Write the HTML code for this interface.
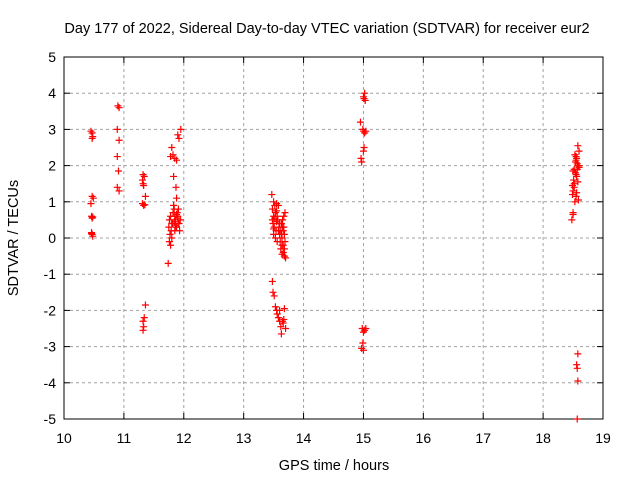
<!DOCTYPE html>
<html><head><meta charset="utf-8"><style>
body{margin:0;background:#fff}
svg{display:block;font-family:"Liberation Sans",sans-serif}
</style></head><body>
<svg id="chart" width="640" height="480">
<rect width="640" height="480" fill="#fff"/>
<text x="327" y="33" text-anchor="middle" font-size="14.5">Day 177 of 2022, Sidereal Day-to-day VTEC variation (SDTVAR) for receiver eur2</text>
<g id="grid"></g><g id="axes"></g><g id="marks"></g>
<text x="334" y="470" text-anchor="middle" font-size="14.5">GPS time / hours</text>
<text transform="translate(18,238) rotate(-90)" text-anchor="middle" font-size="14.5">SDTVAR / TECUs</text>
</svg>
<script>
const xTicks=[10,11,12,13,14,15,16,17,18,19];
const yTicks=[-5,-4,-3,-2,-1,0,1,2,3,4,5];
const times=[10.45,10.47,10.48,10.47,10.47,10.49,10.45,10.46,10.47,10.48,10.46,10.47,10.48,10.46,
10.9,10.92,10.89,10.92,10.89,10.91,10.89,10.92,
11.32,11.34,11.31,11.32,11.33,11.36,11.31,11.33,11.35,11.36,11.34,11.32,11.33,11.32,
11.75,11.8,11.82,11.85,11.88,11.92,11.95,11.9,11.78,11.83,11.87,11.88,11.91,11.76,11.78,11.8,11.82,11.84,11.86,11.88,11.9,11.92,11.94,11.77,11.79,11.81,11.83,11.85,11.87,11.89,11.91,11.93,11.78,11.8,11.84,11.86,11.9,11.76,11.74,11.85,11.88,11.83,
13.47,13.5,13.52,13.48,13.55,13.5,13.53,13.57,13.49,13.51,13.54,13.56,13.58,13.6,13.5,13.53,13.56,13.59,13.48,13.52,13.55,13.58,13.61,13.63,13.65,13.67,13.69,13.62,13.64,13.66,13.68,13.7,13.62,13.64,13.66,13.68,13.63,13.65,13.67,13.69,13.64,13.66,13.6,13.68,13.55,13.5,
13.48,13.49,13.51,13.53,13.55,13.58,13.6,13.62,13.65,13.67,13.7,13.56,13.6,13.63,13.66,13.68,
14.95,14.96,14.97,15.0,15.02,15.01,15.03,14.99,15.0,15.02,15.04,15.01,15.0,14.98,15.0,15.02,15.04,14.99,14.97,15.0,
18.48,18.5,18.52,18.54,18.56,18.58,18.6,18.5,18.52,18.54,18.56,18.58,18.49,18.51,18.53,18.55,18.57,18.59,18.5,18.52,18.55,18.57,18.6,18.53,18.56,18.58,18.5,18.55,18.49,18.6,18.58,18.56,18.57,18.58,18.57,18.55];
const values=[2.95,2.9,2.8,2.75,1.15,1.1,0.95,0.6,0.55,0.58,0.15,0.1,0.05,0.12,
3.65,3.6,3.0,2.7,2.25,1.85,1.4,1.3,
1.75,1.7,1.6,1.5,1.45,1.15,0.95,0.9,0.92,-1.85,-2.2,-2.3,-2.45,-2.55,
0.3,2.5,2.3,2.2,2.15,2.75,3.0,2.85,2.25,1.7,1.4,1.1,0.8,0.5,0.6,0.4,0.7,0.8,0.5,0.3,0.6,0.4,0.5,0.1,0.2,0.4,0.9,0.6,0.3,0.7,0.4,0.2,-0.2,0.0,0.45,0.35,0.55,-0.1,-0.7,0.2,0.65,0.9,
1.2,1.0,0.9,0.8,0.95,0.6,0.7,0.5,0.4,0.3,0.2,0.6,0.9,0.4,0.1,0.0,-0.1,0.3,0.5,0.55,0.45,0.2,-0.1,0.1,0.3,0.6,0.7,-0.3,-0.2,-0.4,-0.5,-0.55,0.2,0.0,-0.2,0.1,0.4,0.5,0.3,-0.1,-0.45,0.2,0.1,-0.3,0.75,0.25,
-1.2,-1.5,-1.6,-1.9,-2.0,-2.2,-2.3,-2.45,-2.3,-2.25,-2.5,-2.1,-2.0,-2.65,-2.35,-1.95,
3.2,2.2,2.1,3.9,4.0,3.85,3.8,3.0,2.95,2.9,2.95,2.5,2.4,-2.5,-2.6,-2.55,-2.5,-2.9,-3.05,-3.1,
0.5,0.7,1.4,1.8,2.2,2.55,2.4,1.3,1.9,2.1,1.7,2.0,1.2,1.6,2.3,2.15,1.9,1.05,0.65,1.5,1.75,2.05,1.95,1.0,1.25,1.55,1.85,2.25,1.45,2.0,-3.2,-3.5,-3.6,-3.95,-5.0,1.15];
const X0=64,X1=603,Y0=419,Y1=57;
const sx=v=>X0+(v-10)/9*(X1-X0), sy=v=>Y0-(v+5)/10*(Y0-Y1);
const NS='http://www.w3.org/2000/svg';
const mk=(t,a,p)=>{const e=document.createElementNS(NS,t);for(const k in a)e.setAttribute(k,a[k]);p.appendChild(e);return e;};
const grid=document.getElementById('grid'),axes=document.getElementById('axes'),marks=document.getElementById('marks');
xTicks.forEach((t,i)=>{const x=sx(t);
 if(i>0&&i<xTicks.length-1){const g=mk('line',{x1:x,x2:x,y1:Y1,y2:Y0,stroke:'#a0a0a0','stroke-dasharray':'3,3'},grid);
 
 }
 mk('line',{x1:x,x2:x,y1:Y0,y2:Y0-6,stroke:'#000'},axes);mk('line',{x1:x,x2:x,y1:Y1,y2:Y1+6,stroke:'#000'},axes);
 const tx=mk('text',{x:x,y:Y0+24,'text-anchor':'middle','font-size':14},axes);tx.textContent=t;
 
 });
yTicks.forEach((t,i)=>{const y=sy(t);
 if(i>0&&i<yTicks.length-1){const g=mk('line',{x1:X0,x2:X1,y1:y,y2:y,stroke:'#a0a0a0','stroke-dasharray':'3,3'},grid);
 
 }
 mk('line',{x1:X0,x2:X0+6,y1:y,y2:y,stroke:'#000'},axes);mk('line',{x1:X1,x2:X1-6,y1:y,y2:y,stroke:'#000'},axes);
 const tx=mk('text',{x:X0-8,y:y+5,'text-anchor':'end','font-size':14},axes);tx.textContent=t;
 
 });
const fr=mk('rect',{x:X0,y:Y1,width:X1-X0,height:Y0-Y1,fill:'none',stroke:'#000'},axes);


times.forEach((t,i)=>{const x=sx(t),y=sy(values[i]);
 const p=mk('path',{d:`M${x-3.5},${y}h7M${x},${y-3.5}v7`,stroke:'#f00','stroke-width':1.2},marks);
 
 });
</script>
</body></html>
